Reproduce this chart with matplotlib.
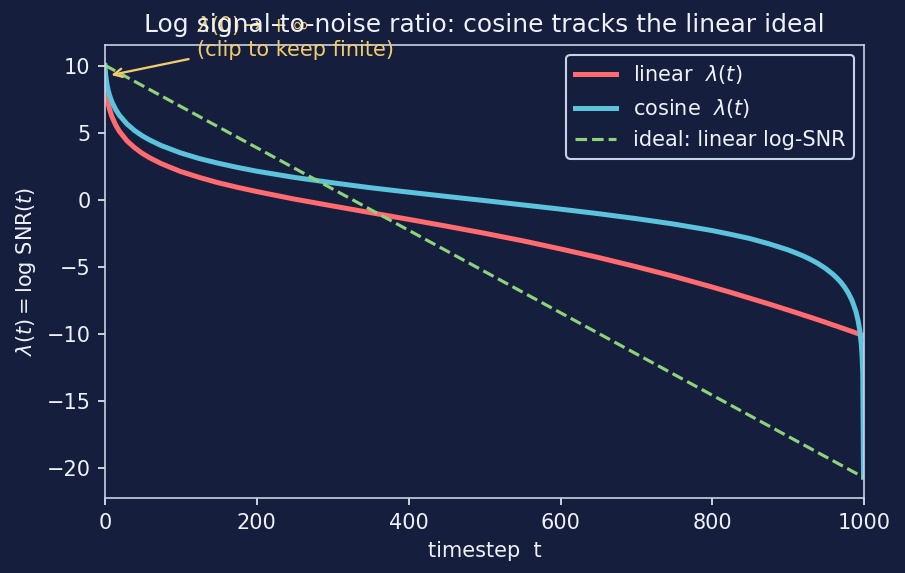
import matplotlib
matplotlib.use("Agg")
import matplotlib.pyplot as plt

# --- dane ---
STEPS = [0, 1, 2, 3, 4, 6, 9, 14, 19, 29, 39, 49, 59, 74, 99, 124, 149, 174,
         199, 249, 299, 349, 399, 449, 499, 549, 599, 649, 699, 749, 799, 824,
         849, 874, 899, 909, 919, 929, 939, 949, 959, 964, 969, 974, 979, 984,
         989, 992, 994, 996, 997, 998, 999]

LINEAR_LAMBDA = [9.21, 8.42, 7.93, 7.56, 7.27, 6.80, 6.27, 5.63, 5.15, 4.44,
                 3.93, 3.51, 3.17, 2.74, 2.16, 1.71, 1.31, 0.97, 0.66, 0.09,
                 -0.42, -0.92, -1.42, -1.93, -2.46, -3.02, -3.63, -4.27,
                 -4.96, -5.69, -6.48, -6.89, -7.32, -7.75, -8.20, -8.38,
                 -8.57, -8.75, -8.94, -9.13, -9.33, -9.42, -9.52, -9.62,
                 -9.72, -9.82, -9.92, -9.98, -10.02, -10.06, -10.08, -10.10,
                 -10.12]

COSINE_LAMBDA = [10.09, 9.34, 8.89, 8.55, 8.27, 7.85, 7.37, 6.79, 6.35, 5.70,
                 5.21, 4.82, 4.50, 4.09, 3.55, 3.12, 2.77, 2.46, 2.18, 1.71,
                 1.31, 0.94, 0.61, 0.29, -0.02, -0.34, -0.66, -1.00, -1.37,
                 -1.78, -2.26, -2.55, -2.86, -3.25, -3.70, -3.92, -4.15,
                 -4.42, -4.73, -5.10, -5.55, -5.82, -6.12, -6.49, -6.94,
                 -7.51, -8.32, -9.04, -9.71, -10.73, -11.54, -12.93, -20.72]

IDEAL_STEPS = [0, 999]
IDEAL_LAMBDA = [10.09, -20.72]

BG = "#151f3d"
FG = "#eef1f8"
SPINE = "#c9d2e6"

plt.rcParams.update({
    "font.family": ["DejaVu Sans"],
    "text.color": FG,
    "axes.labelcolor": FG,
    "xtick.color": FG,
    "ytick.color": FG,
    "axes.edgecolor": SPINE,
})

DPI = 150
fig = plt.figure(figsize=(905 / DPI, 573 / DPI), dpi=DPI, facecolor=BG)
ax = fig.add_axes([0.116, 0.131, 0.839, 0.791], facecolor=BG)

ax.plot(STEPS, LINEAR_LAMBDA, color="#ff6b6f", linewidth=2.4,
        label=r"linear  $\lambda(t)$")
ax.plot(STEPS, COSINE_LAMBDA, color="#5bc3dc", linewidth=2.4,
        label=r"cosine  $\lambda(t)$")
ax.plot(IDEAL_STEPS, IDEAL_LAMBDA, color="#8ed37a", linewidth=1.5,
        linestyle="--", label="ideal: linear log-SNR")

ax.annotate("$\\lambda(0)\\to+\\infty$\n(clip to keep finite)",
            xy=(3, 9.3), xytext=(121, 12.2), color="#f2cb6c",
            fontsize=10, va="center", ha="left",
            arrowprops=dict(arrowstyle="->", color="#f2cb6c", lw=1.1))

ax.set_xlim(0, 1000)
ax.set_title("Log signal-to-noise ratio: cosine tracks the linear ideal",
             color=FG, fontsize=12)
ax.set_xlabel("timestep  t")
ax.set_ylabel(r"$\lambda(t) = \log\,\mathrm{SNR}(t)$")

for s in ax.spines.values():
    s.set_color(SPINE)

leg = ax.legend(loc="upper right", facecolor=BG, edgecolor=SPINE,
                framealpha=1.0)
for t in leg.get_texts():
    t.set_color(FG)

fig.savefig("out.png", dpi=DPI, facecolor=BG)
